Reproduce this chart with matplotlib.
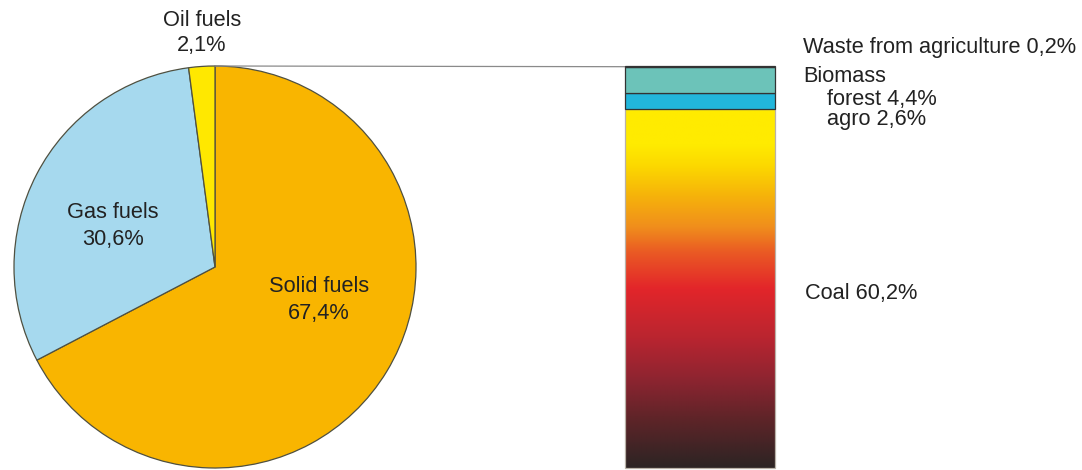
import numpy as np
import matplotlib
matplotlib.use("Agg")
import matplotlib.pyplot as plt
from matplotlib.colors import LinearSegmentedColormap

# Fuel structure (share of total, %)
pie_labels = ["Solid fuels", "Gas fuels", "Oil fuels"]
pie_values = [67.4, 30.6, 2.1]
pie_colors = ["#F9B500", "#A6D9EE", "#FFE800"]

# Breakdown of the solid fuels, bottom to top
bar_labels = ["Coal", "agro", "forest", "Waste from agriculture"]
bar_values = [60.2, 2.6, 4.4, 0.2]
bar_colors = ["none", "#22B6DB", "#6CC3B9", "#6CC3B9"]

plt.rcParams["font.family"] = ["Liberation Sans", "DejaVu Sans"]
TXT = "#222222"
FS = 15.7


def pct(v):
    return f"{v:.1f}".replace(".", ",") + "%"


fig = plt.figure(figsize=(10.82, 4.70), dpi=100)
ax = fig.add_axes([0, 0, 1, 1])

# Pie
cx, cy, R = 215, 203, 201
ax.pie(pie_values, colors=pie_colors, startangle=90, counterclock=False,
       center=(cx, cy), radius=R, frame=True,
       wedgeprops=dict(edgecolor="#4f5040", linewidth=0.9))

ax.text(cx + 104, cy - 19, pie_labels[0], ha="center", va="center", fontsize=FS, color=TXT)
ax.text(cx + 104, cy - 46, pct(pie_values[0]), ha="center", va="center", fontsize=FS, color=TXT)
ax.text(cx - 102, cy + 54, pie_labels[1], ha="center", va="center", fontsize=FS, color=TXT)
ax.text(cx - 102, cy + 27, pct(pie_values[1]), ha="center", va="center", fontsize=FS, color=TXT)
ax.text(cx - 13, cy + R + 46, pie_labels[2], ha="center", va="center", fontsize=FS, color=TXT)
ax.text(cx - 13, cy + R + 20, pct(pie_values[2]), ha="center", va="center", fontsize=FS, color=TXT)

# Stacked bar of solid fuels, same height as the pie diameter
bx, bw = 700, 150
scale = 2 * R / sum(bar_values)
bottom = cy - R
heights = [v * scale for v in bar_values]
bottoms = np.concatenate([[bottom], bottom + np.cumsum(heights)[:-1]])
bars = ax.bar([bx] * len(bar_values), heights, width=bw, bottom=bottoms,
              color=bar_colors, edgecolor="#333333", linewidth=0.9, zorder=3)
bars[0].set_edgecolor("#b9b2a8")

# Gradient fill for coal
coal_cmap = LinearSegmentedColormap.from_list("coal", [
    (0.00, "#2D2424"), (0.13, "#5C2428"), (0.24, "#8B2430"), (0.36, "#B92530"),
    (0.50, "#E3262A"), (0.60, "#EA5A24"), (0.67, "#F08E1C"), (0.76, "#F6B40A"),
    (0.84, "#FCD800"), (0.90, "#FFEB00"), (1.00, "#FFEB00")])
grad = np.linspace(1, 0, 256).reshape(-1, 1)
im = ax.imshow(grad, cmap=coal_cmap, aspect="auto", zorder=2, interpolation="bilinear",
               extent=(bx - bw / 2, bx + bw / 2, bottoms[0], bottoms[0] + heights[0]))
im.set_clip_path(bars[0])

# Connector from the pie top to the bar top
top = bottoms[-1] + heights[-1]
ax.plot([cx, bx - bw / 2], [cy + R, top - 0.7], color="#8a8a8a", linewidth=0.9, zorder=1)

# Bar labels
lx = bx + bw / 2 + 28
ax.text(lx, top + 19, f"{bar_labels[3]} {pct(bar_values[3])}", ha="left", va="center", fontsize=FS, color=TXT)
ax.text(lx, top - 11, "Biomass", ha="left", va="center", fontsize=FS, color=TXT)
ax.text(lx + 24, top - 33, f"{bar_labels[2]} {pct(bar_values[2])}", ha="left", va="center", fontsize=FS, color=TXT)
ax.text(lx + 24, top - 53, f"{bar_labels[1]} {pct(bar_values[1])}", ha="left", va="center", fontsize=FS, color=TXT)
ax.text(lx + 2, bottoms[0] + heights[0] / 2 - 5, f"{bar_labels[0]} {pct(bar_values[0])}",
        ha="left", va="center", fontsize=FS, color=TXT)

ax.set_xlim(0, 1082)
ax.set_ylim(0, 470)
ax.set_aspect("auto")
ax.axis("off")

fig.savefig("out.png", dpi=100, facecolor="white")
